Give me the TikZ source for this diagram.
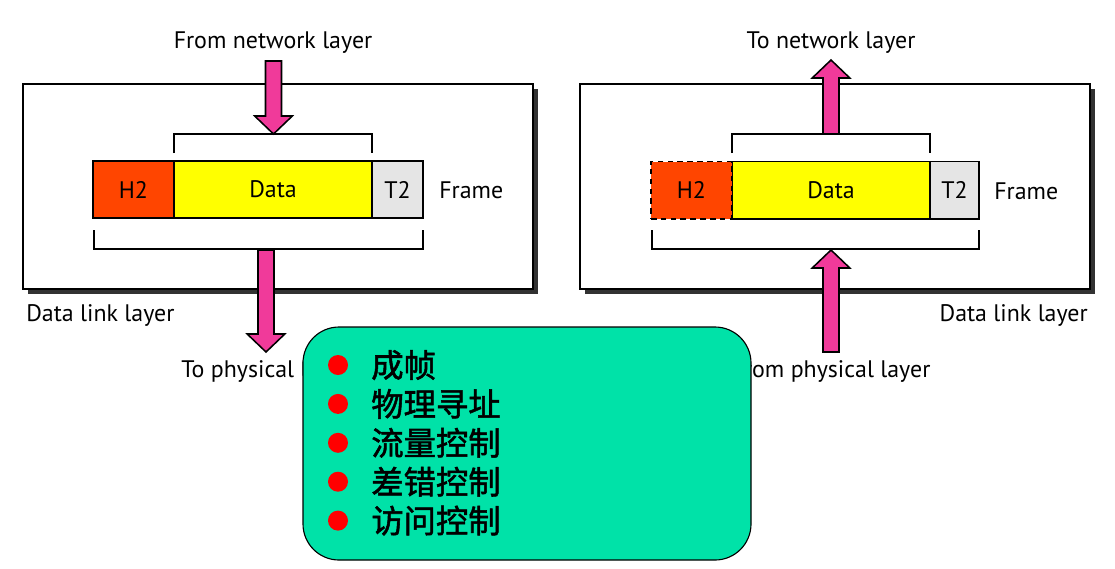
\documentclass[tikz,border=0pt]{standalone}
\usepackage{fontspec}
\setmainfont{PT Sans}
\newfontfamily\cjk[FakeBold=1.6]{Noto Sans CJK SC}
\usetikzlibrary{calc,positioning}

\definecolor{arrowpink}{RGB}{240,58,154}
\definecolor{headred}{RGB}{255,69,0}
\definecolor{datayellow}{RGB}{255,255,0}
\definecolor{trailgray}{RGB}{229,229,229}
\definecolor{notegreen}{RGB}{0,226,168}
\definecolor{shadowgray}{RGB}{50,50,50}

\def\shaftw{0.2cm} % half width of the arrow shaft
\def\headw{0.47cm} % half width of the arrow head
\def\headl{0.45cm} % length of the arrow head

% fat arrow from #1 to #2
\newcommand\fatarrow[2]{%
  \path ($(#2)!\headl!(#1)$) coordinate (fa-h);
  \draw[fatarrow] ($(#1)!\shaftw!90:(#2)$) -- ($(fa-h)!\shaftw!90:(#2)$)
    -- ($(fa-h)!\headw!90:(#2)$) -- (#2) -- ($(fa-h)!\headw!-90:(#2)$)
    -- ($(fa-h)!\shaftw!-90:(#2)$) -- ($(#1)!\shaftw!-90:(#2)$) -- cycle;}

\tikzset{
  layerbox/.style={draw=black, line width=1.4pt, fill=white},
  boxshadow/.style={fill=shadowgray},
  cell/.style={draw=black, line width=1.4pt, outer sep=0pt, minimum height=1.425cm,
    font=\fontsize{17}{20}\selectfont},
  bracket/.style={draw=black, line width=1.1pt},
  fatarrow/.style={draw=black, line width=1.1pt, fill=arrowpink, line join=miter},
  lbl/.style={font=\fontsize{17}{20}\selectfont, inner sep=0pt},
  notebox/.style={draw=black, line width=0.8pt, fill=notegreen, rounded corners=0.9cm},
  dot/.style={circle, fill=red, minimum size=0.5cm, inner sep=0pt},
  item/.style={font=\cjk\fontsize{23}{26}\selectfont, anchor=west, inner sep=0pt}
}

\begin{document}
\begin{tikzpicture}[x=0.025cm, y=-0.025cm]
\useasboundingbox (0,0) rectangle (1115,568);

% sender side
\fill[boxshadow] (28,89) rectangle (538,294);
\draw[layerbox] (23,84) rectangle (533,289);
\node[cell, fill=datayellow, minimum width=4.95cm] (datal) at (273,189.5) {Data};
\node[cell, fill=headred, minimum width=2.025cm, left=0pt of datal] (h2l) {H2};
\node[cell, fill=trailgray, minimum width=1.275cm, right=0pt of datal] (t2l) {T2};
\node[lbl, anchor=west] (framel) at (439,190) {Frame};
\draw[bracket] (174,153) -- (174,134) coordinate (btl) -- (372,134) -- (372,153);
\draw[bracket] (94,230) -- (94,249) -- (423,249) -- (423,230);
\node[lbl, anchor=base] (fromnet) at (273,48) {From network layer};
\node[lbl, anchor=base west] (dlll) at (26,321) {Data link layer};
\node[lbl, anchor=base] (tophy) at (266,377) {To physical layer};
\coordinate (fromnet-a) at (273.5,61);
\coordinate (fromnet-b) at (273.5,134);
\coordinate (tophy-a) at (266,250);
\coordinate (tophy-b) at (266,352);
\fatarrow{fromnet-a}{fromnet-b}
\fatarrow{tophy-a}{tophy-b}

% receiver side
\fill[boxshadow] (585,89) rectangle (1095,294);
\draw[layerbox] (580,84) rectangle (1090,289);
\node[cell, fill=datayellow, minimum width=4.95cm] (datar) at (831,190) {Data};
\node[cell, fill=headred, minimum width=2.025cm, dash pattern=on 4pt off 3pt, left=0pt of datar] (h2r) {H2};
\node[cell, fill=trailgray, minimum width=1.225cm, right=0pt of datar] (t2r) {T2};
\node[lbl, anchor=west] (framer) at (994,191) {Frame};
\draw[bracket] (732,153) -- (732,134) -- (930,134) -- (930,153);
\draw[bracket] (652,230) -- (652,249) -- (979,249) -- (979,230);
\node[lbl, anchor=base] (tonet) at (831,48) {To network layer};
\node[lbl, anchor=base east] (dllr) at (1088,321) {Data link layer};
\node[lbl, anchor=base] (fromphy) at (831,377) {From physical layer};
\coordinate (tonet-a) at (831,134);
\coordinate (tonet-b) at (831,60);
\coordinate (fromphy-a) at (831,352);
\coordinate (fromphy-b) at (831,250);
\fatarrow{tonet-a}{tonet-b}
\fatarrow{fromphy-a}{fromphy-b}

% duties of the data link layer
\draw[notebox] (303,327) rectangle (751,560);
\foreach \t [count=\i] in {成帧,物理寻址,流量控制,差错控制,访问控制} {
  \node[dot] (dot\i) at (338,{365+38.9*(\i-1)}) {};
  \node[item] (item\i) at (371,{365+38.9*(\i-1)}) {\t};
}
\end{tikzpicture}
\end{document}
